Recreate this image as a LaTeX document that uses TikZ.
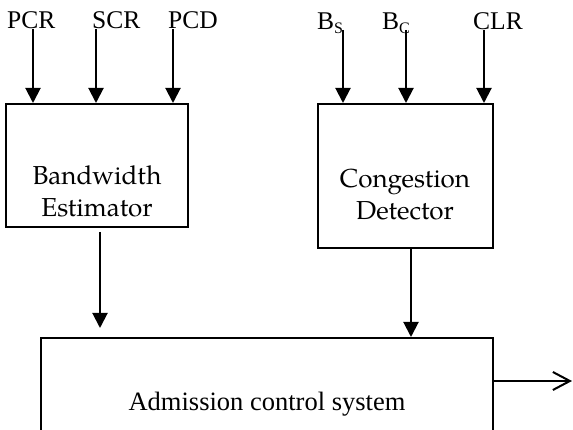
\documentclass[tikz,border=0pt]{standalone}
\usepackage{fontspec}
\setmainfont{Liberation Serif}
\newfontfamily\pala{TeX Gyre Pagella}
\usetikzlibrary{arrows.meta}
\tikzset{
  x=1pt, y=-1pt,
  box/.style={draw, line width=2pt, rectangle, inner sep=0pt},
  arr/.style={line width=2pt, -{Triangle[length=15pt,width=15pt]}},
  outarr/.style={line width=2pt, -{Straight Barb[length=17pt,width=18pt,line width=2pt]}},
  lbl/.style={font=\fontsize{25.5}{30}\selectfont, inner sep=0pt, anchor=base west},
  boxtxt/.style={font=\pala\fontsize{26}{32}\selectfont, inner sep=0pt, align=center, anchor=base},
  acstxt/.style={font=\fontsize{26.5}{32}\selectfont, inner sep=0pt, anchor=base}
}
\begin{document}
\begin{tikzpicture}
\useasboundingbox (0,0) rectangle (573,430);
% boxes
\node[box, minimum width=182pt, minimum height=123pt] (bw) at (97,165.5) {};
\node[box, minimum width=175pt, minimum height=144pt] (cd) at (405.5,176) {};
\node[box, minimum width=452pt, minimum height=110pt] (acs) at (267,393) {};
% box texts
\node[boxtxt] (bwt) at (97,217) {Bandwidth\\Estimator};
\node[boxtxt] (cdt) at (405,220) {Congestion\\Detector};
\node[acstxt] (acst) at (267,410) {Admission control system};
% input labels
\node[lbl] (pcr) at (7,29) {PCR};
\node[lbl] (scr) at (92,29) {SCR};
\node[lbl] (pcd) at (168,29) {PCD};
\node[lbl] (bs) at (317,30) {B\raisebox{-4pt}{\fontsize{16}{18}\selectfont S}};
\node[lbl] (bc) at (382,30) {B\raisebox{-4pt}{\fontsize{16}{18}\selectfont C}};
\node[lbl] (clr) at (473,30) {CLR};
% input arrows
\draw[arr] (pcr.base -| 33,0) -- (bw.north -| 33,0);
\draw[arr] (scr.base -| 96,0) -- (bw.north -| 96,0);
\draw[arr] (pcd.base -| 173,0) -- (bw.north -| 173,0);
\draw[arr] (bs.base -| 343,0) -- (cd.north -| 343,0);
\draw[arr] (bc.base -| 406,0) -- (cd.north -| 406,0);
\draw[arr] (clr.base -| 484,0) -- (cd.north -| 484,0);
% to admission control
\coordinate (bwend) at (100,328);
\draw[arr] ([yshift=-4pt]bw.south -| 100,0) -- (bwend);
\draw[arr] (cd.south -| 411,0) -- (acs.north -| 411,0);
% output
\coordinate (outend) at (572,381);
\draw[outarr] (acs.east |- outend) -- (outend);
\end{tikzpicture}
\end{document}
